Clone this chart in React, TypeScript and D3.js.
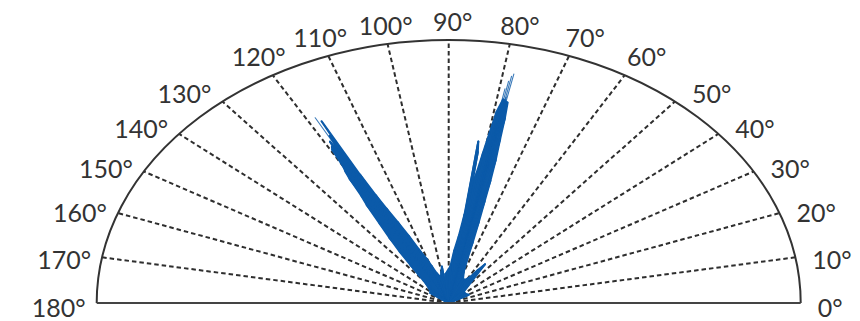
import React from "react";
import * as d3 from "d3";

const tickAngles = [0, 10, 20, 30, 40, 50, 60, 70, 80, 90, 100, 110, 120, 130, 140, 150, 160, 170, 180];
const tickLabels = ["0°", "10°", "20°", "30°", "40°", "50°", "60°", "70°", "80°", "90°", "100°", "110°", "120°", "130°", "140°", "150°", "160°", "170°", "180°"];

// Ray directions (degrees) and normalized magnitudes
const leftDirections = [118.3, 117.6, 118.0, 118.8, 119.2, 119.6, 119.0, 118.5, 117.8, 120.0, 120.4, 120.8, 117.3, 121.3, 116.8, 122.0, 116.2, 123.0, 115.2, 124.2, 114.0, 125.5, 112.5, 127.0, 110.5, 128.5, 109.0, 107.0, 98.0, 100.0, 103.0, 131.0, 135.0, 138.0, 144.0];
const leftMagnitudes = [0.80, 0.78, 0.72, 0.70, 0.68, 0.67, 0.66, 0.64, 0.62, 0.60, 0.58, 0.55, 0.55, 0.48, 0.46, 0.44, 0.40, 0.36, 0.34, 0.30, 0.28, 0.24, 0.22, 0.18, 0.18, 0.14, 0.15, 0.12, 0.14, 0.12, 0.10, 0.10, 0.08, 0.07, 0.065];
const rightDirections = [78.0, 78.3, 78.6, 78.9, 78.2, 77.6, 78.7, 79.4, 77.2, 79.8, 76.8, 82.2, 81.8, 80.3, 76.2, 80.9, 75.7, 81.6, 75.2, 82.4, 74.5, 83.5, 73.5, 85.5, 72.5, 88.0, 70.5, 92.0, 95.0, 55.0, 56.5, 58.0, 62.0, 66.0, 29.0, 35.0, 45.0];
const rightMagnitudes = [0.89, 0.88, 0.86, 0.83, 0.80, 0.78, 0.79, 0.74, 0.72, 0.66, 0.64, 0.62, 0.58, 0.58, 0.56, 0.50, 0.48, 0.42, 0.40, 0.34, 0.32, 0.26, 0.24, 0.20, 0.18, 0.14, 0.13, 0.12, 0.11, 0.18, 0.15, 0.12, 0.10, 0.10, 0.065, 0.06, 0.06];

const W = 860;
const H = 321;
const cx = 448.7;
const cy = 303;
const rx = 352;
const ry = 263;
const BLUE = "#0b5aa9";

export default function App() {
  const rX = d3.scaleLinear().domain([0, 1]).range([0, rx]);
  const rY = d3.scaleLinear().domain([0, 1]).range([0, ry]);
  const ang = d3.scaleLinear().domain([0, 180]).range([0, Math.PI]);
  const pt = (deg: number, r: number): [number, number] => [
    cx + rX(r) * Math.cos(ang(deg)),
    cy - rY(r) * Math.sin(ang(deg)),
  ];

  const bundles = [
    leftDirections.map((d, i) => ({ d, m: leftMagnitudes[i] })),
    rightDirections.map((d, i) => ({ d, m: rightMagnitudes[i] })),
  ];
  const rays = bundles.flat();
  const line = d3.line();
  const bodies = bundles.map((b) => {
    const body = b.filter((r) => r.m <= 0.79).sort((p, q) => p.d - q.d);
    const pts: [number, number][] = [[cx, cy], ...body.map((r) => pt(r.d, r.m)), [cx, cy]];
    return line(pts) + "Z";
  });

  const arcPath = `M${cx + rx},${cy} A${rx},${ry} 0 0 0 ${cx - rx},${cy}`;
  const grid = tickAngles.filter((a) => a > 0 && a < 180);

  const labelPos = (a: number) => {
    const [px, py] = pt(a, 1);
    if (a <= 50) return { x: px + 17, y: py + 4 - a * 0.25, anchor: "start" };
    if (a >= 130) return { x: px - 11, y: py + 4 - (180 - a) * 0.25, anchor: "end" };
    return { x: px + 4 + (90 - a) * 0.6, y: py - 19, anchor: "middle" };
  };

  return (
    <svg width={W} height={H} style={{ position: "absolute", left: 0, top: 0, background: "#fff" }}>
      {grid.map((a) => {
        const [x2, y2] = pt(a, 1);
        return (
          <line key={a} x1={cx} y1={cy} x2={x2} y2={y2} stroke="#2e2e2e" strokeWidth={2} strokeDasharray="4.5,3" />
        );
      })}
      {bodies.map((d, i) => (
        <path key={i} d={d} fill={BLUE} stroke={BLUE} strokeWidth={2} strokeLinejoin="round" />
      ))}
      {rays.map((r, i) => {
        const [x2, y2] = pt(r.d, r.m);
        return (
          <line key={i} x1={cx} y1={cy} x2={x2} y2={y2} stroke={BLUE} strokeWidth={r.m > 0.76 ? 1.1 : 2} strokeLinecap="round" opacity={r.m > 0.76 ? 0.8 : 1} />
        );
      })}
      <path d={arcPath} fill="none" stroke="#333" strokeWidth={2} />
      <line x1={cx - rx} y1={cy} x2={cx + rx} y2={cy} stroke="#444" strokeWidth={2.2} />
      {tickAngles.map((a, i) => {
        const p = labelPos(a);
        return (
          <text key={a} x={p.x} y={p.y} textAnchor={p.anchor} dominantBaseline="central" fontFamily="Lato, 'Noto Sans', sans-serif" fontSize={25} fill="#333">
            {tickLabels[i]}
          </text>
        );
      })}
    </svg>
  );
}
